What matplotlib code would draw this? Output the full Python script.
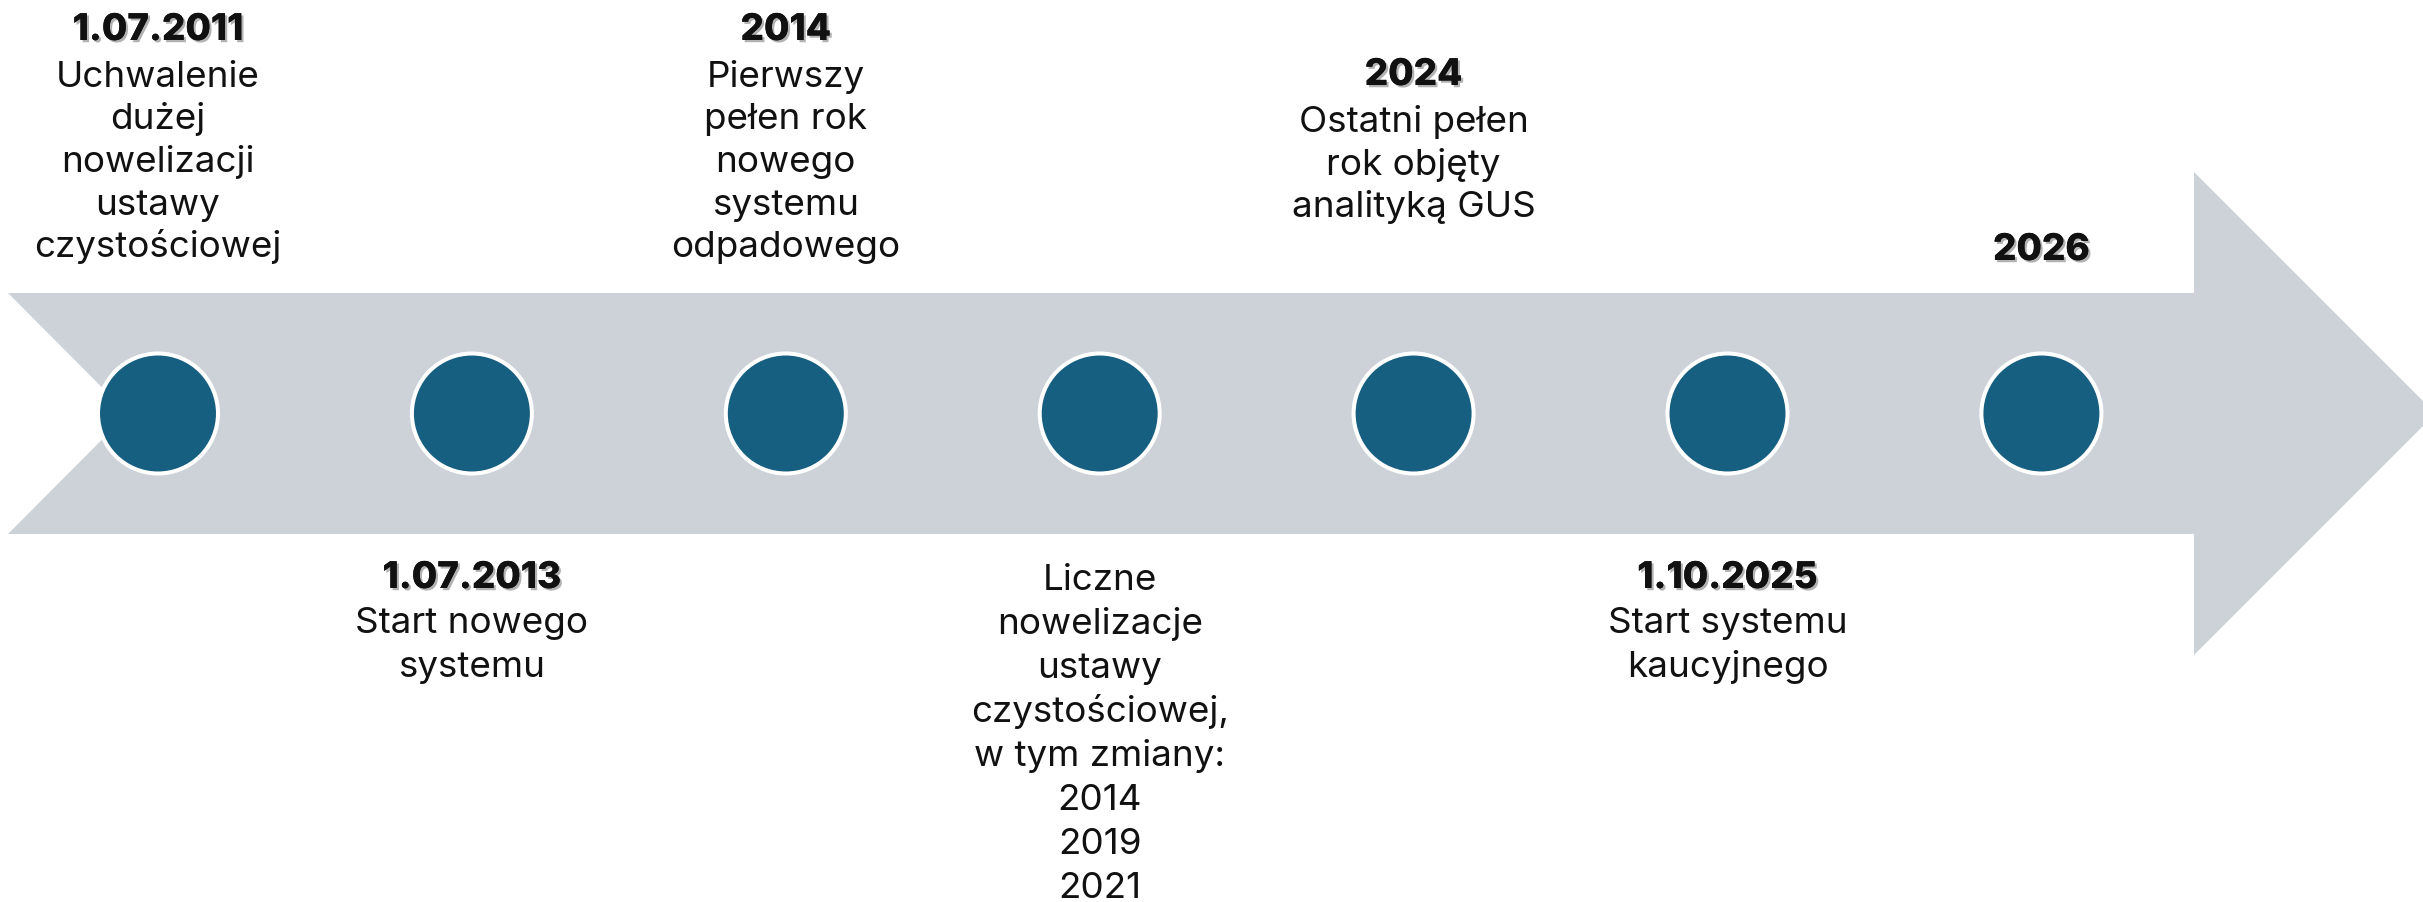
import matplotlib
matplotlib.use("Agg")
import matplotlib.pyplot as plt
from matplotlib.patches import Polygon, Circle
import matplotlib.patheffects as pe

# milestones along the arrow (left to right)
headings = ["1.07.2011", "1.07.2013", "2014", "", "2024", "1.10.2025", "2026"]
bodies = [
    ["Uchwalenie", "dużej", "nowelizacji", "ustawy", "czystościowej"],
    ["Start nowego", "systemu"],
    ["Pierwszy", "pełen rok", "nowego", "systemu", "odpadowego"],
    ["Liczne", "nowelizacje", "ustawy", "czystościowej,", "w tym zmiany:",
     "2014", "2019", "2021"],
    ["Ostatni pełen", "rok objęty", "analityką GUS"],
    ["Start systemu", "kaucyjnego"],
    [],
]
side = ["top", "bottom", "top", "bottom", "top", "bottom", "top"]
first_baseline = [40, 588, 40, 590, 85, 588, 260]

W, H = 2423, 902
ARROW = "#CDD2D9"
DOT = "#165F81"

fig = plt.figure(figsize=(W / 100, H / 100), dpi=100)
ax = fig.add_axes([0, 0, 1, 1])
ax.set_xlim(0, W)
ax.set_ylim(H, 0)
ax.axis("off")

# arrow body with notch on the left and head on the right
cy = 413.5
body_top, body_bot = 293, 534
head_x, head_top, head_bot = 2194, 172, 655
tip_x = head_x + (head_bot - head_top) / 2
pts = [(8, body_top), (head_x, body_top), (head_x, head_top), (tip_x, cy),
       (head_x, head_bot), (head_x, body_bot), (8, body_bot), (128, cy)]
ax.add_patch(Polygon(pts, closed=True, facecolor=ARROW, edgecolor="none"))

x0, dx = 158, 313.9
font = "Inter"
fs_body = 26.5
fs_head = 26.5
shadow = [pe.withSimplePatchShadow(offset=(1.6, -1.6), shadow_rgbFace="#555555", alpha=0.45),
          pe.Normal()]

for i, (head, body) in enumerate(zip(headings, bodies)):
    x = x0 + i * dx
    ax.add_patch(Circle((x, cy), 60, facecolor=DOT, edgecolor="white", linewidth=2.9))
    y = first_baseline[i]
    step = 42.5 if side[i] == "top" else 44
    if head:
        ax.text(x, y, head, ha="center", va="baseline", fontsize=fs_head, family=font,
                fontweight="heavy", color="#111111", path_effects=shadow)
        y += 47 if side[i] == "top" else 45
    for line in body:
        ax.text(x, y, line, ha="center", va="baseline", fontsize=fs_body, family=font,
                color="#111111")
        y += step

fig.savefig("out.png", dpi=100, facecolor="white")
